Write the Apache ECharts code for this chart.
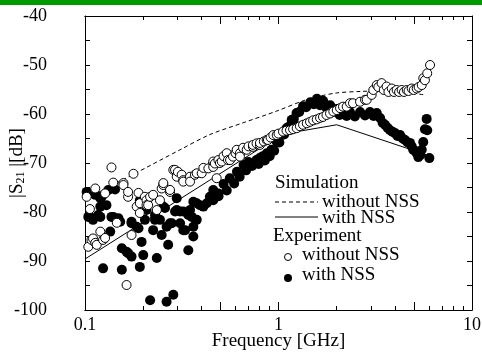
<!DOCTYPE html>
<html>
<head>
<meta charset="utf-8">
<script src="https://cdn.jsdelivr.net/npm/echarts@6/dist/echarts.min.js"></script>
<style>
html, body { margin: 0; padding: 0; background: #fff; }
#main { width: 482px; height: 363px; }
</style>
</head>
<body>
<div id="main"></div>
<script>
// tick values (GHz / dB)
var xLabelTicks = [0.1, 1, 10];
var xMajorTicks = [0.1, 0.5, 1, 5, 10];
var xMinorTicks = [0.2, 0.3, 0.4, 0.6, 0.7, 0.8, 0.9, 2, 3, 4, 6, 7, 8, 9];

// simulation curves [GHz, dB]
var simWithout = [
    [0.1, -77.4], [0.178, -72.3], [0.31, -67.3], [0.442, -64.2], [0.656, -61.8],
    [0.979, -59.4], [1.34, -57.3], [1.58, -56.5], [2.0, -55.7], [2.64, -55.4],
    [3.45, -55.3], [4.5, -55.6], [5.71, -56.1]
];
var simWith = [
    [0.1, -89.6], [1.05, -64.1], [2.0, -62.2], [6.0, -68.5]
];

// measured, without NSS (open circles)
var expWithout = [
    [0.102, -76.9], [0.104, -87.1], [0.106, -79.4], [0.108, -85.7], [0.110, -85.4], [0.113, -86.3],
    [0.113, -75.2], [0.115, -86.7], [0.120, -84.0], [0.124, -85.7], [0.127, -76.2], [0.127, -85.3],
    [0.137, -70.9], [0.140, -74.0], [0.146, -82.2], [0.158, -74.1], [0.158, -74.5], [0.164, -94.9],
    [0.167, -76.9], [0.167, -75.9], [0.174, -84.7], [0.178, -72.2], [0.185, -78.9], [0.189, -76.1],
    [0.192, -78.2], [0.192, -80.2], [0.204, -76.9], [0.208, -77.6], [0.208, -78.6], [0.212, -78.6],
    [0.217, -76.9], [0.225, -76.5], [0.235, -79.6], [0.244, -77.6], [0.249, -75.2], [0.254, -74.5],
    [0.254, -74.1], [0.275, -75.9], [0.275, -75.5],
    [0.286, -71.4], [0.292, -71.4], [0.298, -72.8], [0.302, -71.8], [0.316, -72.4], [0.322, -73.5],
    [0.322, -73.8], [0.349, -72.8], [0.349, -73.8], [0.370, -72.4], [0.378, -72.1], [0.401, -72.1],
    [0.409, -71.0], [0.434, -71.1], [0.460, -70.0], [0.460, -69.7], [0.460, -70.8], [0.469, -70.1],
    [0.479, -73.1], [0.489, -69.4], [0.498, -70.0], [0.509, -69.7], [0.52, -68.6], [0.540, -68.0],
    [0.548, -69.4], [0.562, -69.4], [0.582, -68.7], [0.60, -68.0], [0.608, -67.3], [0.632, -68.0],
    [0.632, -68.7], [0.656, -66.9], [0.685, -67.3], [0.70, -66.6], [0.738, -66.7], [0.738, -66.3],
    [0.77, -66.0], [0.802, -66.3], [0.802, -65.9], [0.84, -65.6], [0.869, -65.3], [0.882, -65.3],
    [0.91, -64.8], [0.940, -64.3], [0.979, -64.3], [1.0, -64.0], [1.055, -63.6], [1.10, -63.4],
    [1.147, -63.3], [1.19, -63.1], [1.242, -62.9], [1.29, -62.5], [1.339, -62.2], [1.40, -61.9],
    [1.455, -61.6], [1.51, -61.3], [1.576, -61.1], [1.64, -60.8], [1.698, -60.6], [1.77, -60.2],
    [1.846, -59.9], [1.92, -59.5], [2.00, -59.2], [2.08, -58.8], [2.154, -58.5], [2.251, -58.5],
    [2.342, -57.8], [2.427, -57.8], [2.638, -57.5], [2.80, -57.1], [2.856, -57.1], [3.03, -56.1],
    [3.09, -55.1], [3.22, -54.1], [3.28, -54.5], [3.41, -53.7], [3.5, -55.1], [3.62, -54.4],
    [3.7, -55.5], [3.85, -54.8], [3.95, -55.5], [4.08, -55.1], [4.2, -55.5], [4.33, -55.1],
    [4.45, -55.5], [4.60, -55.1], [4.7, -55.3], [4.88, -54.8], [5.0, -55.1], [5.18, -54.8],
    [5.3, -54.5], [5.50, -54.1], [5.60, -52.7], [5.71, -53.1], [5.87, -51.7], [6.07, -50.0]
];

// measured, with NSS (filled circles)
var expWith = [
    [0.102, -75.9], [0.113, -76.5], [0.122, -76.9], [0.132, -75.5], [0.143, -75.4], [0.129, -78.6],
    [0.120, -78.9], [0.120, -77.2], [0.104, -81.0], [0.110, -81.6], [0.106, -81.0], [0.117, -80.6],
    [0.120, -81.0], [0.137, -81.0], [0.140, -81.0], [0.149, -81.3], [0.152, -82.0], [0.135, -84.0],
    [0.174, -82.0], [0.174, -82.3], [0.185, -83.0], [0.189, -83.3], [0.208, -77.9], [0.124, -91.5],
    [0.155, -91.8], [0.192, -91.2], [0.155, -87.4], [0.164, -88.1], [0.167, -88.4], [0.174, -89.1],
    [0.200, -88.8], [0.235, -89.4], [0.196, -86.1], [0.249, -84.7], [0.269, -86.7], [0.342, -87.8],
    [0.217, -98.0], [0.264, -98.3], [0.286, -96.9], [0.235, -81.3], [0.230, -81.6], [0.254, -78.9],
    [0.259, -79.2], [0.298, -77.2], [0.292, -79.9], [0.310, -79.9], [0.322, -79.9], [0.342, -80.6],
    [0.356, -81.0], [0.363, -83.0], [0.329, -83.7], [0.275, -82.3], [0.281, -82.3], [0.363, -85.0],
    [0.378, -78.2], [0.409, -78.9], [0.442, -76.9], [0.460, -75.5], [0.192, -77.6], [0.208, -79.6],
    [0.204, -81.6], [0.230, -80.6], [0.244, -81.6], [0.298, -79.6], [0.225, -83.7], [0.264, -83.0],
    [0.310, -82.3], [0.322, -83.7], [0.378, -81.6], [0.349, -79.6], [0.363, -77.9], [0.393, -78.6],
    [0.426, -78.2], [0.460, -77.6], [0.489, -76.2],
    [0.52, -74.3], [0.56, -73.1], [0.61, -71.8], [0.66, -70.4], [0.70, -69.8], [0.77, -69.4],
    [0.80, -69.0], [0.83, -68.6], [0.87, -68.0], [0.92, -67.3], [0.98, -65.7], [1.04, -64.3],
    [1.10, -62.9], [1.17, -61.2], [1.24, -59.8], [1.34, -58.4], [1.46, -57.6], [1.58, -56.9],
    [1.70, -57.3], [1.85, -58.2], [2.0, -59.0], [2.15, -59.4], [2.34, -59.6], [2.64, -59.6],
    [2.97, -59.6], [3.22, -59.8], [3.35, -60.8], [3.55, -62.2], [3.77, -63.3], [4.0, -63.9],
    [4.25, -64.3], [4.51, -65.3], [4.78, -65.9], [4.97, -67.3], [5.18, -68.0], [5.28, -68.8],
    [5.50, -67.3], [5.60, -65.7], [5.71, -63.1], [5.83, -61.0], [5.87, -63.3], [6.02, -69.0],
    [0.49, -76.8], [0.54, -75.6], [0.59, -74.2], [0.63, -72.8], [0.68, -71.5], [0.73, -70.6],
    [0.79, -70.2], [0.85, -69.5], [0.90, -68.6], [0.95, -67.5], [1.01, -65.8], [1.07, -64.2],
    [1.13, -62.6], [1.20, -61.0], [1.28, -59.6], [1.39, -58.6], [1.52, -58.0], [1.64, -58.2],
    [1.77, -58.8], [1.92, -59.6], [2.07, -60.2], [2.25, -60.4], [2.48, -60.5], [2.8, -60.3],
    [3.1, -60.4], [3.45, -61.8], [3.66, -62.8], [3.88, -63.6], [4.12, -64.5], [4.38, -65.0],
    [4.65, -65.8], [4.88, -66.6], [5.1, -67.6], [5.4, -68.4]
];

var FONT = '"Liberation Serif", "Times New Roman", serif';

function logAxis(pos, ticks, len, labels) {
    return {
        type: 'log',
        logBase: 10,
        min: 0.1,
        max: 10,
        position: pos,
        axisLine: { show: true, onZero: false, lineStyle: { color: '#000', width: 1 } },
        axisTick: { show: true, inside: true, length: len, customValues: ticks, lineStyle: { color: '#000', width: 1 } },
        axisLabel: labels ? {
            show: true, customValues: labels, margin: 6, color: '#000',
            fontFamily: FONT, fontSize: 18,
            formatter: function (v) { return String(v); }
        } : { show: false },
        splitLine: { show: false }
    };
}

function valAxis(pos, labels) {
    return {
        type: 'value',
        min: -100,
        max: -40,
        interval: 5,
        position: pos,
        axisLine: { show: true, onZero: false, lineStyle: { color: '#000', width: 1 } },
        axisTick: { show: true, inside: true, length: 5, lineStyle: { color: '#000', width: 1 } },
        axisLabel: labels ? {
            show: true, margin: 38, color: '#000', fontFamily: FONT, fontSize: 18,
            formatter: function (v) { return v % 10 === 0 ? String(v) : ''; }
        } : { show: false },
        splitLine: { show: false }
    };
}

var chart = echarts.init(document.getElementById('main'), null, { renderer: 'canvas' });

var xMain = logAxis('bottom', xMajorTicks, 8, xLabelTicks);
xMain.name = 'Frequency [GHz]';
xMain.nameLocation = 'middle';
xMain.nameGap = 22;
xMain.nameMoveOverlap = false;
xMain.nameTextStyle = { color: '#000', fontFamily: FONT, fontSize: 19 };

var yMain = valAxis('left', true);
yMain.name = '|S{sub|21} |[dB]';
yMain.nameLocation = 'middle';
yMain.nameGap = 58;
yMain.nameRotate = 90;
yMain.nameMoveOverlap = false;
yMain.nameTextStyle = {
    color: '#000', fontFamily: FONT, fontSize: 19,
    rich: { sub: { fontFamily: FONT, fontSize: 12, color: '#000', padding: [8, 0, 0, 0] } }
};

var legendX = 275;
var option = {
    animation: false,
    backgroundColor: '#fff',
    grid: { left: 85, right: 10, top: 16, bottom: 53, containLabel: false, outerBoundsMode: 'none' },
    xAxis: [
        xMain,
        logAxis('bottom', xMinorTicks, 4, null),
        logAxis('top', xMajorTicks, 8, null),
        logAxis('top', xMinorTicks, 4, null)
    ],
    yAxis: [yMain, valAxis('right', false)],
    series: [
        {
            name: 'sim without NSS', type: 'line', data: simWithout, smooth: 0.3,
            symbol: 'none', z: 1,
            lineStyle: { color: '#000', width: 1, type: [4, 3] }
        },
        {
            name: 'sim with NSS', type: 'line', data: simWith,
            symbol: 'none', z: 1,
            lineStyle: { color: '#000', width: 1 }
        },
        {
            name: 'exp with NSS', type: 'scatter', data: expWith,
            symbol: 'circle', symbolSize: 10, z: 2,
            itemStyle: { color: '#000', opacity: 1 }
        },
        {
            name: 'exp without NSS', type: 'scatter', data: expWithout,
            symbol: 'circle', symbolSize: 9, z: 3,
            itemStyle: { color: '#fff', borderColor: '#000', borderWidth: 1, opacity: 1 }
        }
    ],
    graphic: [
        { type: 'rect', shape: { x: 0, y: 0, width: 482, height: 5 }, style: { fill: '#009a00' } },
        { type: 'text', x: legendX, y: 183, style: { text: 'Simulation', font: '19px ' + FONT, fill: '#000', verticalAlign: 'middle' } },
        { type: 'line', shape: { x1: 275, y1: 202, x2: 318, y2: 202 }, style: { stroke: '#000', lineWidth: 1, lineDash: [4, 3] } },
        { type: 'text', x: 322, y: 202, style: { text: 'without NSS', font: '19px ' + FONT, fill: '#000', verticalAlign: 'middle' } },
        { type: 'line', shape: { x1: 275, y1: 217, x2: 318, y2: 217 }, style: { stroke: '#000', lineWidth: 1 } },
        { type: 'text', x: 322, y: 218, style: { text: 'with NSS', font: '19px ' + FONT, fill: '#000', verticalAlign: 'middle' } },
        { type: 'text', x: 273, y: 236, style: { text: 'Experiment', font: '19px ' + FONT, fill: '#000', verticalAlign: 'middle' } },
        { type: 'circle', shape: { cx: 288, cy: 257, r: 3.5 }, style: { fill: '#fff', stroke: '#000', lineWidth: 1 } },
        { type: 'text', x: 302, y: 255, style: { text: 'without NSS', font: '19px ' + FONT, fill: '#000', verticalAlign: 'middle' } },
        { type: 'circle', shape: { cx: 288, cy: 278, r: 4 }, style: { fill: '#000' } },
        { type: 'text', x: 302, y: 275, style: { text: 'with NSS', font: '19px ' + FONT, fill: '#000', verticalAlign: 'middle' } }
    ]
};

chart.setOption(option);
</script>
</body>
</html>
